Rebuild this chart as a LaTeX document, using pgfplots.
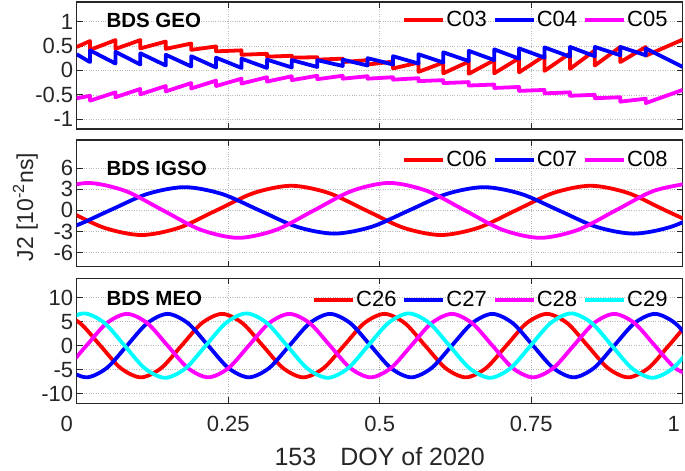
\documentclass[border=0pt]{standalone}
\usepackage{fontspec}
\setmainfont{Liberation Sans}
\usepackage{pgfplots}
\pgfplotsset{compat=1.18}
\definecolor{axisgray}{RGB}{38,38,38}
\definecolor{cred}{RGB}{255,0,0}
\definecolor{cblue}{RGB}{0,0,255}
\definecolor{cmag}{RGB}{255,0,255}
\definecolor{ccyan}{RGB}{0,255,255}
\newcommand{\tickfont}{\fontsize{22bp}{24bp}\selectfont}
\tikzset{ttl/.style={anchor=west, font=\bfseries\fontsize{20.5bp}{22bp}\selectfont, text=black}}
\pgfplotsset{
 panel/.style={
  scale only axis, width=606bp,
  xmin=0, xmax=1, xtick={0,0.25,0.5,0.75,1},
  grid=major,
  major grid style={dotted, color=gray!55, line width=0.55bp},
  axis line style={line width=1.1bp, draw=axisgray},
  tick style={line width=0.9bp, draw=axisgray},
  major tick length=6bp,
  tick align=inside,
  tick label style={font=\tickfont, text=axisgray},
  /pgf/number format/assume math mode=true,
  every axis plot/.append style={line width=3.8bp, line join=round},
  no markers,
  legend style={draw=none, fill=none, font=\tickfont, legend columns=-1, anchor=east, inner sep=0pt, nodes={inner sep=1bp}, /tikz/every even column/.append style={column sep=5bp}},
  legend image code/.code={\draw[##1, line width=4bp] (0bp,0bp) -- (39bp,0bp);},
 },
}
\begin{document}
\begin{tikzpicture}
\path[use as bounding box] (-76.7bp,-67.7bp) rectangle (608.3bp,403.3bp);
% ---------- GEO ----------
\begin{axis}[panel, at={(0bp,274.3bp)}, anchor=south west, height=127bp,
  ymin=-1.2, ymax=1.4, ytick={-1,-0.5,0,0.5,1}, xticklabels={},
  legend style={at={(0.977,0.858)}}]
\addplot[cred] coordinates {(0,0.48)
(0.022,0.60)(0.022,0.42) (0.064,0.62)(0.064,0.44) (0.105,0.62)(0.105,0.45)
(0.147,0.59)(0.147,0.44) (0.189,0.55)(0.189,0.42) (0.230,0.49)(0.230,0.39)
(0.272,0.41)(0.272,0.32) (0.314,0.34)(0.314,0.28) (0.355,0.30)(0.355,0.26)
(0.397,0.27)(0.397,0.22) (0.439,0.24)(0.439,0.17) (0.480,0.21)(0.480,0.12)
(0.522,0.18)(0.522,0.04) (0.564,0.16)(0.564,-0.03) (0.605,0.16)(0.605,-0.06)
(0.647,0.18)(0.647,-0.07) (0.689,0.21)(0.689,-0.06) (0.730,0.25)(0.730,-0.04)
(0.772,0.30)(0.772,-0.01) (0.814,0.35)(0.814,0.03) (0.855,0.41)(0.855,0.10)
(0.897,0.48)(0.897,0.17) (0.939,0.48)(0.939,0.30) (1,0.63)};
\addlegendentry{C03}
\addplot[cblue] coordinates {(0,0.33)
(0.022,0.17)(0.022,0.41) (0.064,0.14)(0.064,0.38) (0.105,0.12)(0.105,0.35)
(0.147,0.10)(0.147,0.32) (0.189,0.08)(0.189,0.29) (0.230,0.06)(0.230,0.26)
(0.272,0.05)(0.272,0.24) (0.314,0.05)(0.314,0.22) (0.355,0.06)(0.355,0.21)
(0.397,0.07)(0.397,0.21) (0.439,0.09)(0.439,0.22) (0.480,0.10)(0.480,0.25)
(0.522,0.12)(0.522,0.29) (0.564,0.14)(0.564,0.33) (0.605,0.16)(0.605,0.37)
(0.647,0.19)(0.647,0.40) (0.689,0.21)(0.689,0.43) (0.730,0.24)(0.730,0.45)
(0.772,0.26)(0.772,0.47) (0.814,0.28)(0.814,0.48) (0.855,0.29)(0.855,0.48)
(0.897,0.31)(0.897,0.48) (0.939,0.31)(0.939,0.45) (1,0.07)};
\addlegendentry{C04}
\addplot[cmag] coordinates {(0,-0.57)
(0.022,-0.52)(0.022,-0.62) (0.064,-0.45)(0.064,-0.55) (0.105,-0.38)(0.105,-0.49)
(0.147,-0.32)(0.147,-0.43) (0.189,-0.26)(0.189,-0.37) (0.230,-0.21)(0.230,-0.32)
(0.272,-0.17)(0.272,-0.27) (0.314,-0.14)(0.314,-0.23) (0.355,-0.12)(0.355,-0.20)
(0.397,-0.11)(0.397,-0.18) (0.439,-0.11)(0.439,-0.17) (0.480,-0.12)(0.480,-0.17)
(0.522,-0.14)(0.522,-0.19) (0.564,-0.16)(0.564,-0.22) (0.605,-0.20)(0.605,-0.26)
(0.647,-0.24)(0.647,-0.31) (0.689,-0.29)(0.689,-0.36) (0.730,-0.34)(0.730,-0.42)
(0.772,-0.40)(0.772,-0.47) (0.814,-0.45)(0.814,-0.52) (0.855,-0.50)(0.855,-0.57)
(0.897,-0.55)(0.897,-0.64) (0.939,-0.58)(0.939,-0.67) (1,-0.40)};
\addlegendentry{C05}
\node[ttl] at (rel axis cs:0.0434,0.858) {BDS GEO};
\end{axis}
% ---------- IGSO ----------
\begin{axis}[panel, at={(0bp,136.6bp)}, anchor=south west, height=126.7bp,
  ymin=-8, ymax=10, ytick={-6,-3,0,3,6}, xticklabels={},
  ylabel={J2 [10\textsuperscript{-2}ns]},
  ylabel style={font=\fontsize{23bp}{25bp}\selectfont, text=axisgray, at={(axis description cs:-0.0845,0.47)}, anchor=center},
  legend style={at={(0.977,0.842)}}]
\addplot[cred, smooth] coordinates {(-0.0783,2.47)(-0.0165,0)(0.0453,-2.47)(0.107,-3.5)(0.1688,-2.47)(0.2305,0)(0.2923,2.47)(0.354,3.5)(0.4158,2.47)(0.4775,0)(0.5393,-2.47)(0.601,-3.5)(0.6628,-2.47)(0.7245,0)(0.7863,2.47)(0.848,3.5)(0.9098,2.47)(0.9715,0)(1.0333,-2.47)};
\addlegendentry{C06}
\addplot[cblue, smooth] coordinates {(-0.069,-3.3)(-0.0073,-2.33)(0.0545,0)(0.1163,2.33)(0.178,3.3)(0.2398,2.33)(0.3015,0)(0.3633,-2.33)(0.425,-3.3)(0.4868,-2.33)(0.5485,0)(0.6103,2.33)(0.672,3.3)(0.7338,2.33)(0.7955,0)(0.8573,-2.33)(0.919,-3.3)(0.9808,-2.33)(1.0425,0)};
\addlegendentry{C07}
\addplot[cmag, smooth] coordinates {(-0.0443,2.76)(0.018,3.9)(0.0803,2.76)(0.1425,0)(0.2048,-2.76)(0.267,-3.9)(0.3293,-2.76)(0.3915,0)(0.4538,2.76)(0.516,3.9)(0.5783,2.76)(0.6405,0)(0.7028,-2.76)(0.765,-3.9)(0.8273,-2.76)(0.8895,0)(0.9518,2.76)(1.014,3.9)};
\addlegendentry{C08}
\node[ttl] at (rel axis cs:0.0434,0.779) {BDS IGSO};
\end{axis}
% ---------- MEO ----------
\begin{axis}[panel, at={(0bp,0bp)}, anchor=south west, height=125bp,
  ymin=-12, ymax=14, ytick={-10,-5,0,5,10},
  xticklabels={\makebox[0pt]{0\hspace{20bp}},0.25,0.5,0.75,\makebox[0pt]{1\hspace{18bp}}},
  xticklabel style={yshift=-9.5bp},
  xlabel={153\hspace{24bp}DOY of 2020},
  xlabel style={font=\fontsize{25bp}{27bp}\selectfont, text=axisgray, inner sep=0pt, at={(axis description cs:0.5,0)}, anchor=base, yshift=-62bp},
  legend style={at={(0.977,0.826)}}]
\addplot[cred, smooth] coordinates {(-0.0615,4.67)(-0.028,6.6)(0.0055,4.67)(0.039,0)(0.0725,-4.67)(0.106,-6.6)(0.1395,-4.67)(0.173,0)(0.2065,4.67)(0.240,6.6)(0.2735,4.67)(0.307,0)(0.3405,-4.67)(0.374,-6.6)(0.4075,-4.67)(0.441,0)(0.4745,4.67)(0.508,6.6)(0.5415,4.67)(0.575,0)(0.6085,-4.67)(0.642,-6.6)(0.6755,-4.67)(0.709,0)(0.7425,4.67)(0.776,6.6)(0.8095,4.67)(0.843,0)(0.8765,-4.67)(0.910,-6.6)(0.9435,-4.67)(0.977,0)(1.0105,4.67)(1.044,6.6)};
\addlegendentry{C26}
\addplot[cblue, smooth] coordinates {(-0.051,0)(-0.0175,-4.67)(0.016,-6.6)(0.0495,-4.67)(0.083,0)(0.1165,4.67)(0.150,6.6)(0.1835,4.67)(0.217,0)(0.2505,-4.67)(0.284,-6.6)(0.3175,-4.67)(0.351,0)(0.3845,4.67)(0.418,6.6)(0.4515,4.67)(0.485,0)(0.5185,-4.67)(0.552,-6.6)(0.5855,-4.67)(0.619,0)(0.6525,4.67)(0.686,6.6)(0.7195,4.67)(0.753,0)(0.7865,-4.67)(0.820,-6.6)(0.8535,-4.67)(0.887,0)(0.9205,4.67)(0.954,6.6)(0.9875,4.67)(1.021,0)};
\addlegendentry{C27}
\addplot[cmag, smooth] coordinates {(-0.051,-6.6)(-0.0175,-4.67)(0.016,0)(0.0495,4.67)(0.083,6.6)(0.1165,4.67)(0.150,0)(0.1835,-4.67)(0.217,-6.6)(0.2505,-4.67)(0.284,0)(0.3175,4.67)(0.351,6.6)(0.3845,4.67)(0.418,0)(0.4515,-4.67)(0.485,-6.6)(0.5185,-4.67)(0.552,0)(0.5855,4.67)(0.619,6.6)(0.6525,4.67)(0.686,0)(0.7195,-4.67)(0.753,-6.6)(0.7865,-4.67)(0.820,0)(0.8535,4.67)(0.887,6.6)(0.9205,4.67)(0.954,0)(0.9875,-4.67)(1.021,-6.6)};
\addlegendentry{C28}
\addplot[ccyan, smooth] coordinates {(-0.055,0)(-0.0215,4.74)(0.012,6.7)(0.0455,4.74)(0.079,0)(0.1125,-4.74)(0.146,-6.7)(0.1795,-4.74)(0.213,0)(0.2465,4.74)(0.280,6.7)(0.3135,4.74)(0.347,0)(0.3805,-4.74)(0.414,-6.7)(0.4475,-4.74)(0.481,0)(0.5145,4.74)(0.548,6.7)(0.5815,4.74)(0.615,0)(0.6485,-4.74)(0.682,-6.7)(0.7155,-4.74)(0.749,0)(0.7825,4.74)(0.816,6.7)(0.8495,4.74)(0.883,0)(0.9165,-4.74)(0.950,-6.7)(0.9835,-4.74)(1.017,0)(1.0505,4.74)};
\addlegendentry{C29}
\node[ttl] at (rel axis cs:0.0434,0.84) {BDS MEO};
\end{axis}
\end{tikzpicture}
\end{document}
